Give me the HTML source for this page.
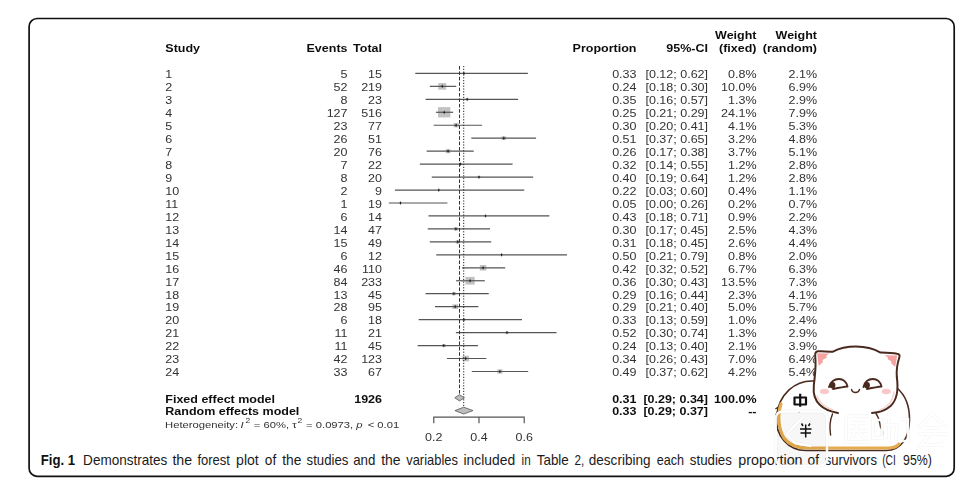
<!DOCTYPE html><html><head><meta charset="utf-8"><style>html,body{margin:0;padding:0;background:#fff;width:980px;height:490px;overflow:hidden}svg{position:absolute;left:0;top:0}</style></head><body>
<svg width="980" height="490" viewBox="0 0 980 490" font-family="Liberation Sans, sans-serif">
<rect x="29.1" y="18.5" width="925.1" height="457.8" rx="8" ry="8" fill="none" stroke="#111" stroke-width="1.7"/>
<defs><filter id="bl" x="-5%" y="-5%" width="110%" height="110%"><feGaussianBlur stdDeviation="0.35"/></filter></defs>
<g filter="url(#bl)">
<text transform="translate(165.30,52.30) scale(1.17,1)" font-size="10.7" text-anchor="start" fill="#111" font-weight="bold" >Study</text>
<text transform="translate(347.50,52.30) scale(1.17,1)" font-size="10.7" text-anchor="end" fill="#111" font-weight="bold" >Events</text>
<text transform="translate(382.00,52.30) scale(1.17,1)" font-size="10.7" text-anchor="end" fill="#111" font-weight="bold" >Total</text>
<text transform="translate(636.50,52.30) scale(1.17,1)" font-size="10.7" text-anchor="end" fill="#111" font-weight="bold" >Proportion</text>
<text transform="translate(708.00,52.30) scale(1.17,1)" font-size="10.7" text-anchor="end" fill="#111" font-weight="bold" >95%-CI</text>
<text transform="translate(756.50,39.30) scale(1.17,1)" font-size="10.7" text-anchor="end" fill="#111" font-weight="bold" >Weight</text>
<text transform="translate(756.50,52.30) scale(1.17,1)" font-size="10.7" text-anchor="end" fill="#111" font-weight="bold" >(fixed)</text>
<text transform="translate(817.00,39.30) scale(1.17,1)" font-size="10.7" text-anchor="end" fill="#111" font-weight="bold" >Weight</text>
<text transform="translate(817.00,52.30) scale(1.17,1)" font-size="10.7" text-anchor="end" fill="#111" font-weight="bold" >(random)</text>
<text transform="translate(165.30,78.20) scale(1.17,1)" font-size="10.7" text-anchor="start" fill="#333" >1</text>
<text transform="translate(347.50,78.20) scale(1.17,1)" font-size="10.7" text-anchor="end" fill="#333" >5</text>
<text transform="translate(382.00,78.20) scale(1.17,1)" font-size="10.7" text-anchor="end" fill="#333" >15</text>
<text transform="translate(636.50,78.20) scale(1.17,1)" font-size="10.7" text-anchor="end" fill="#333" >0.33</text>
<text transform="translate(708.00,78.20) scale(1.17,1)" font-size="10.7" text-anchor="end" fill="#333" >[0.12; 0.62]</text>
<text transform="translate(756.50,78.20) scale(1.17,1)" font-size="10.7" text-anchor="end" fill="#333" >0.8%</text>
<text transform="translate(817.00,78.20) scale(1.17,1)" font-size="10.7" text-anchor="end" fill="#333" >2.1%</text>
<line x1="415.28" y1="73.40" x2="527.87" y2="73.40" stroke="#555" stroke-width="1.2"/>
<path d="M463.01,73.40 L463.91,71.50 L464.81,73.40 L463.91,75.30 Z" fill="#222"/>
<text transform="translate(165.30,91.16) scale(1.17,1)" font-size="10.7" text-anchor="start" fill="#333" >2</text>
<text transform="translate(347.50,91.16) scale(1.17,1)" font-size="10.7" text-anchor="end" fill="#333" >52</text>
<text transform="translate(382.00,91.16) scale(1.17,1)" font-size="10.7" text-anchor="end" fill="#333" >219</text>
<text transform="translate(636.50,91.16) scale(1.17,1)" font-size="10.7" text-anchor="end" fill="#333" >0.24</text>
<text transform="translate(708.00,91.16) scale(1.17,1)" font-size="10.7" text-anchor="end" fill="#333" >[0.18; 0.30]</text>
<text transform="translate(756.50,91.16) scale(1.17,1)" font-size="10.7" text-anchor="end" fill="#333" >10.0%</text>
<text transform="translate(817.00,91.16) scale(1.17,1)" font-size="10.7" text-anchor="end" fill="#333" >6.9%</text>
<rect x="438.24" y="83.04" width="7.97" height="6.64" fill="#c2c2c2"/>
<line x1="429.86" y1="86.36" x2="456.24" y2="86.36" stroke="#555" stroke-width="1.2"/>
<path d="M441.33,86.36 L442.23,84.46 L443.13,86.36 L442.23,88.26 Z" fill="#222"/>
<text transform="translate(165.30,104.12) scale(1.17,1)" font-size="10.7" text-anchor="start" fill="#333" >3</text>
<text transform="translate(347.50,104.12) scale(1.17,1)" font-size="10.7" text-anchor="end" fill="#333" >8</text>
<text transform="translate(382.00,104.12) scale(1.17,1)" font-size="10.7" text-anchor="end" fill="#333" >23</text>
<text transform="translate(636.50,104.12) scale(1.17,1)" font-size="10.7" text-anchor="end" fill="#333" >0.35</text>
<text transform="translate(708.00,104.12) scale(1.17,1)" font-size="10.7" text-anchor="end" fill="#333" >[0.16; 0.57]</text>
<text transform="translate(756.50,104.12) scale(1.17,1)" font-size="10.7" text-anchor="end" fill="#333" >1.3%</text>
<text transform="translate(817.00,104.12) scale(1.17,1)" font-size="10.7" text-anchor="end" fill="#333" >2.9%</text>
<rect x="465.75" y="98.12" width="2.87" height="2.39" fill="#c2c2c2"/>
<line x1="425.59" y1="99.32" x2="518.04" y2="99.32" stroke="#555" stroke-width="1.2"/>
<path d="M466.29,99.32 L467.19,97.42 L468.09,99.32 L467.19,101.22 Z" fill="#222"/>
<text transform="translate(165.30,117.08) scale(1.17,1)" font-size="10.7" text-anchor="start" fill="#333" >4</text>
<text transform="translate(347.50,117.08) scale(1.17,1)" font-size="10.7" text-anchor="end" fill="#333" >127</text>
<text transform="translate(382.00,117.08) scale(1.17,1)" font-size="10.7" text-anchor="end" fill="#333" >516</text>
<text transform="translate(636.50,117.08) scale(1.17,1)" font-size="10.7" text-anchor="end" fill="#333" >0.25</text>
<text transform="translate(708.00,117.08) scale(1.17,1)" font-size="10.7" text-anchor="end" fill="#333" >[0.21; 0.29]</text>
<text transform="translate(756.50,117.08) scale(1.17,1)" font-size="10.7" text-anchor="end" fill="#333" >24.1%</text>
<text transform="translate(817.00,117.08) scale(1.17,1)" font-size="10.7" text-anchor="end" fill="#333" >7.9%</text>
<rect x="438.01" y="107.13" width="12.37" height="10.31" fill="#c2c2c2"/>
<line x1="435.92" y1="112.28" x2="453.15" y2="112.28" stroke="#555" stroke-width="1.2"/>
<path d="M443.29,112.28 L444.19,110.38 L445.09,112.28 L444.19,114.18 Z" fill="#222"/>
<text transform="translate(165.30,130.04) scale(1.17,1)" font-size="10.7" text-anchor="start" fill="#333" >5</text>
<text transform="translate(347.50,130.04) scale(1.17,1)" font-size="10.7" text-anchor="end" fill="#333" >23</text>
<text transform="translate(382.00,130.04) scale(1.17,1)" font-size="10.7" text-anchor="end" fill="#333" >77</text>
<text transform="translate(636.50,130.04) scale(1.17,1)" font-size="10.7" text-anchor="end" fill="#333" >0.30</text>
<text transform="translate(708.00,130.04) scale(1.17,1)" font-size="10.7" text-anchor="end" fill="#333" >[0.20; 0.41]</text>
<text transform="translate(756.50,130.04) scale(1.17,1)" font-size="10.7" text-anchor="end" fill="#333" >4.1%</text>
<text transform="translate(817.00,130.04) scale(1.17,1)" font-size="10.7" text-anchor="end" fill="#333" >5.3%</text>
<rect x="453.53" y="123.11" width="5.10" height="4.25" fill="#c2c2c2"/>
<line x1="433.70" y1="125.24" x2="482.11" y2="125.24" stroke="#555" stroke-width="1.2"/>
<path d="M455.19,125.24 L456.09,123.34 L456.99,125.24 L456.09,127.14 Z" fill="#222"/>
<text transform="translate(165.30,143.00) scale(1.17,1)" font-size="10.7" text-anchor="start" fill="#333" >6</text>
<text transform="translate(347.50,143.00) scale(1.17,1)" font-size="10.7" text-anchor="end" fill="#333" >26</text>
<text transform="translate(382.00,143.00) scale(1.17,1)" font-size="10.7" text-anchor="end" fill="#333" >51</text>
<text transform="translate(636.50,143.00) scale(1.17,1)" font-size="10.7" text-anchor="end" fill="#333" >0.51</text>
<text transform="translate(708.00,143.00) scale(1.17,1)" font-size="10.7" text-anchor="end" fill="#333" >[0.37; 0.65]</text>
<text transform="translate(756.50,143.00) scale(1.17,1)" font-size="10.7" text-anchor="end" fill="#333" >3.2%</text>
<text transform="translate(817.00,143.00) scale(1.17,1)" font-size="10.7" text-anchor="end" fill="#333" >4.8%</text>
<rect x="501.56" y="136.32" width="4.51" height="3.76" fill="#c2c2c2"/>
<line x1="471.30" y1="138.20" x2="536.08" y2="138.20" stroke="#555" stroke-width="1.2"/>
<path d="M502.92,138.20 L503.82,136.30 L504.72,138.20 L503.82,140.10 Z" fill="#222"/>
<text transform="translate(165.30,155.96) scale(1.17,1)" font-size="10.7" text-anchor="start" fill="#333" >7</text>
<text transform="translate(347.50,155.96) scale(1.17,1)" font-size="10.7" text-anchor="end" fill="#333" >20</text>
<text transform="translate(382.00,155.96) scale(1.17,1)" font-size="10.7" text-anchor="end" fill="#333" >76</text>
<text transform="translate(636.50,155.96) scale(1.17,1)" font-size="10.7" text-anchor="end" fill="#333" >0.26</text>
<text transform="translate(708.00,155.96) scale(1.17,1)" font-size="10.7" text-anchor="end" fill="#333" >[0.17; 0.38]</text>
<text transform="translate(756.50,155.96) scale(1.17,1)" font-size="10.7" text-anchor="end" fill="#333" >3.7%</text>
<text transform="translate(817.00,155.96) scale(1.17,1)" font-size="10.7" text-anchor="end" fill="#333" >5.1%</text>
<rect x="445.64" y="149.14" width="4.85" height="4.04" fill="#c2c2c2"/>
<line x1="426.69" y1="151.16" x2="473.74" y2="151.16" stroke="#555" stroke-width="1.2"/>
<path d="M447.16,151.16 L448.06,149.26 L448.96,151.16 L448.06,153.06 Z" fill="#222"/>
<text transform="translate(165.30,168.92) scale(1.17,1)" font-size="10.7" text-anchor="start" fill="#333" >8</text>
<text transform="translate(347.50,168.92) scale(1.17,1)" font-size="10.7" text-anchor="end" fill="#333" >7</text>
<text transform="translate(382.00,168.92) scale(1.17,1)" font-size="10.7" text-anchor="end" fill="#333" >22</text>
<text transform="translate(636.50,168.92) scale(1.17,1)" font-size="10.7" text-anchor="end" fill="#333" >0.32</text>
<text transform="translate(708.00,168.92) scale(1.17,1)" font-size="10.7" text-anchor="end" fill="#333" >[0.14; 0.55]</text>
<text transform="translate(756.50,168.92) scale(1.17,1)" font-size="10.7" text-anchor="end" fill="#333" >1.2%</text>
<text transform="translate(817.00,168.92) scale(1.17,1)" font-size="10.7" text-anchor="end" fill="#333" >2.8%</text>
<rect x="459.11" y="162.97" width="2.76" height="2.30" fill="#c2c2c2"/>
<line x1="419.89" y1="164.12" x2="512.61" y2="164.12" stroke="#555" stroke-width="1.2"/>
<path d="M459.60,164.12 L460.50,162.22 L461.40,164.12 L460.50,166.02 Z" fill="#222"/>
<text transform="translate(165.30,181.88) scale(1.17,1)" font-size="10.7" text-anchor="start" fill="#333" >9</text>
<text transform="translate(347.50,181.88) scale(1.17,1)" font-size="10.7" text-anchor="end" fill="#333" >8</text>
<text transform="translate(382.00,181.88) scale(1.17,1)" font-size="10.7" text-anchor="end" fill="#333" >20</text>
<text transform="translate(636.50,181.88) scale(1.17,1)" font-size="10.7" text-anchor="end" fill="#333" >0.40</text>
<text transform="translate(708.00,181.88) scale(1.17,1)" font-size="10.7" text-anchor="end" fill="#333" >[0.19; 0.64]</text>
<text transform="translate(756.50,181.88) scale(1.17,1)" font-size="10.7" text-anchor="end" fill="#333" >1.2%</text>
<text transform="translate(817.00,181.88) scale(1.17,1)" font-size="10.7" text-anchor="end" fill="#333" >2.8%</text>
<rect x="477.61" y="175.93" width="2.76" height="2.30" fill="#c2c2c2"/>
<line x1="431.78" y1="177.08" x2="533.14" y2="177.08" stroke="#555" stroke-width="1.2"/>
<path d="M478.09,177.08 L478.99,175.18 L479.89,177.08 L478.99,178.98 Z" fill="#222"/>
<text transform="translate(165.30,194.84) scale(1.17,1)" font-size="10.7" text-anchor="start" fill="#333" >10</text>
<text transform="translate(347.50,194.84) scale(1.17,1)" font-size="10.7" text-anchor="end" fill="#333" >2</text>
<text transform="translate(382.00,194.84) scale(1.17,1)" font-size="10.7" text-anchor="end" fill="#333" >9</text>
<text transform="translate(636.50,194.84) scale(1.17,1)" font-size="10.7" text-anchor="end" fill="#333" >0.22</text>
<text transform="translate(708.00,194.84) scale(1.17,1)" font-size="10.7" text-anchor="end" fill="#333" >[0.03; 0.60]</text>
<text transform="translate(756.50,194.84) scale(1.17,1)" font-size="10.7" text-anchor="end" fill="#333" >0.4%</text>
<text transform="translate(817.00,194.84) scale(1.17,1)" font-size="10.7" text-anchor="end" fill="#333" >1.1%</text>
<line x1="394.90" y1="190.04" x2="524.23" y2="190.04" stroke="#555" stroke-width="1.2"/>
<path d="M437.89,190.04 L438.79,188.14 L439.69,190.04 L438.79,191.94 Z" fill="#222"/>
<text transform="translate(165.30,207.80) scale(1.17,1)" font-size="10.7" text-anchor="start" fill="#333" >11</text>
<text transform="translate(347.50,207.80) scale(1.17,1)" font-size="10.7" text-anchor="end" fill="#333" >1</text>
<text transform="translate(382.00,207.80) scale(1.17,1)" font-size="10.7" text-anchor="end" fill="#333" >19</text>
<text transform="translate(636.50,207.80) scale(1.17,1)" font-size="10.7" text-anchor="end" fill="#333" >0.05</text>
<text transform="translate(708.00,207.80) scale(1.17,1)" font-size="10.7" text-anchor="end" fill="#333" >[0.00; 0.26]</text>
<text transform="translate(756.50,207.80) scale(1.17,1)" font-size="10.7" text-anchor="end" fill="#333" >0.2%</text>
<text transform="translate(817.00,207.80) scale(1.17,1)" font-size="10.7" text-anchor="end" fill="#333" >0.7%</text>
<line x1="388.84" y1="203.00" x2="447.40" y2="203.00" stroke="#555" stroke-width="1.2"/>
<path d="M399.54,203.00 L400.44,201.10 L401.34,203.00 L400.44,204.90 Z" fill="#222"/>
<text transform="translate(165.30,220.76) scale(1.17,1)" font-size="10.7" text-anchor="start" fill="#333" >12</text>
<text transform="translate(347.50,220.76) scale(1.17,1)" font-size="10.7" text-anchor="end" fill="#333" >6</text>
<text transform="translate(382.00,220.76) scale(1.17,1)" font-size="10.7" text-anchor="end" fill="#333" >14</text>
<text transform="translate(636.50,220.76) scale(1.17,1)" font-size="10.7" text-anchor="end" fill="#333" >0.43</text>
<text transform="translate(708.00,220.76) scale(1.17,1)" font-size="10.7" text-anchor="end" fill="#333" >[0.18; 0.71]</text>
<text transform="translate(756.50,220.76) scale(1.17,1)" font-size="10.7" text-anchor="end" fill="#333" >0.9%</text>
<text transform="translate(817.00,220.76) scale(1.17,1)" font-size="10.7" text-anchor="end" fill="#333" >2.2%</text>
<line x1="428.48" y1="215.96" x2="549.40" y2="215.96" stroke="#555" stroke-width="1.2"/>
<path d="M484.56,215.96 L485.46,214.06 L486.36,215.96 L485.46,217.86 Z" fill="#222"/>
<text transform="translate(165.30,233.72) scale(1.17,1)" font-size="10.7" text-anchor="start" fill="#333" >13</text>
<text transform="translate(347.50,233.72) scale(1.17,1)" font-size="10.7" text-anchor="end" fill="#333" >14</text>
<text transform="translate(382.00,233.72) scale(1.17,1)" font-size="10.7" text-anchor="end" fill="#333" >47</text>
<text transform="translate(636.50,233.72) scale(1.17,1)" font-size="10.7" text-anchor="end" fill="#333" >0.30</text>
<text transform="translate(708.00,233.72) scale(1.17,1)" font-size="10.7" text-anchor="end" fill="#333" >[0.17; 0.45]</text>
<text transform="translate(756.50,233.72) scale(1.17,1)" font-size="10.7" text-anchor="end" fill="#333" >2.5%</text>
<text transform="translate(817.00,233.72) scale(1.17,1)" font-size="10.7" text-anchor="end" fill="#333" >4.3%</text>
<rect x="453.91" y="227.26" width="3.98" height="3.32" fill="#c2c2c2"/>
<line x1="427.76" y1="228.92" x2="490.05" y2="228.92" stroke="#555" stroke-width="1.2"/>
<path d="M455.01,228.92 L455.91,227.02 L456.81,228.92 L455.91,230.82 Z" fill="#222"/>
<text transform="translate(165.30,246.68) scale(1.17,1)" font-size="10.7" text-anchor="start" fill="#333" >14</text>
<text transform="translate(347.50,246.68) scale(1.17,1)" font-size="10.7" text-anchor="end" fill="#333" >15</text>
<text transform="translate(382.00,246.68) scale(1.17,1)" font-size="10.7" text-anchor="end" fill="#333" >49</text>
<text transform="translate(636.50,246.68) scale(1.17,1)" font-size="10.7" text-anchor="end" fill="#333" >0.31</text>
<text transform="translate(708.00,246.68) scale(1.17,1)" font-size="10.7" text-anchor="end" fill="#333" >[0.18; 0.45]</text>
<text transform="translate(756.50,246.68) scale(1.17,1)" font-size="10.7" text-anchor="end" fill="#333" >2.6%</text>
<text transform="translate(817.00,246.68) scale(1.17,1)" font-size="10.7" text-anchor="end" fill="#333" >4.4%</text>
<rect x="455.73" y="240.19" width="4.06" height="3.39" fill="#c2c2c2"/>
<line x1="429.81" y1="241.88" x2="491.24" y2="241.88" stroke="#555" stroke-width="1.2"/>
<path d="M456.86,241.88 L457.76,239.98 L458.66,241.88 L457.76,243.78 Z" fill="#222"/>
<text transform="translate(165.30,259.64) scale(1.17,1)" font-size="10.7" text-anchor="start" fill="#333" >15</text>
<text transform="translate(347.50,259.64) scale(1.17,1)" font-size="10.7" text-anchor="end" fill="#333" >6</text>
<text transform="translate(382.00,259.64) scale(1.17,1)" font-size="10.7" text-anchor="end" fill="#333" >12</text>
<text transform="translate(636.50,259.64) scale(1.17,1)" font-size="10.7" text-anchor="end" fill="#333" >0.50</text>
<text transform="translate(708.00,259.64) scale(1.17,1)" font-size="10.7" text-anchor="end" fill="#333" >[0.21; 0.79]</text>
<text transform="translate(756.50,259.64) scale(1.17,1)" font-size="10.7" text-anchor="end" fill="#333" >0.8%</text>
<text transform="translate(817.00,259.64) scale(1.17,1)" font-size="10.7" text-anchor="end" fill="#333" >2.0%</text>
<line x1="436.23" y1="254.84" x2="566.97" y2="254.84" stroke="#555" stroke-width="1.2"/>
<path d="M500.70,254.84 L501.60,252.94 L502.50,254.84 L501.60,256.74 Z" fill="#222"/>
<text transform="translate(165.30,272.60) scale(1.17,1)" font-size="10.7" text-anchor="start" fill="#333" >16</text>
<text transform="translate(347.50,272.60) scale(1.17,1)" font-size="10.7" text-anchor="end" fill="#333" >46</text>
<text transform="translate(382.00,272.60) scale(1.17,1)" font-size="10.7" text-anchor="end" fill="#333" >110</text>
<text transform="translate(636.50,272.60) scale(1.17,1)" font-size="10.7" text-anchor="end" fill="#333" >0.42</text>
<text transform="translate(708.00,272.60) scale(1.17,1)" font-size="10.7" text-anchor="end" fill="#333" >[0.32; 0.52]</text>
<text transform="translate(756.50,272.60) scale(1.17,1)" font-size="10.7" text-anchor="end" fill="#333" >6.7%</text>
<text transform="translate(817.00,272.60) scale(1.17,1)" font-size="10.7" text-anchor="end" fill="#333" >6.3%</text>
<rect x="479.84" y="265.08" width="6.52" height="5.44" fill="#c2c2c2"/>
<line x1="461.99" y1="267.80" x2="505.24" y2="267.80" stroke="#555" stroke-width="1.2"/>
<path d="M482.21,267.80 L483.11,265.90 L484.01,267.80 L483.11,269.70 Z" fill="#222"/>
<text transform="translate(165.30,285.56) scale(1.17,1)" font-size="10.7" text-anchor="start" fill="#333" >17</text>
<text transform="translate(347.50,285.56) scale(1.17,1)" font-size="10.7" text-anchor="end" fill="#333" >84</text>
<text transform="translate(382.00,285.56) scale(1.17,1)" font-size="10.7" text-anchor="end" fill="#333" >233</text>
<text transform="translate(636.50,285.56) scale(1.17,1)" font-size="10.7" text-anchor="end" fill="#333" >0.36</text>
<text transform="translate(708.00,285.56) scale(1.17,1)" font-size="10.7" text-anchor="end" fill="#333" >[0.30; 0.43]</text>
<text transform="translate(756.50,285.56) scale(1.17,1)" font-size="10.7" text-anchor="end" fill="#333" >13.5%</text>
<text transform="translate(817.00,285.56) scale(1.17,1)" font-size="10.7" text-anchor="end" fill="#333" >7.3%</text>
<rect x="465.43" y="276.90" width="9.26" height="7.72" fill="#c2c2c2"/>
<line x1="456.11" y1="280.76" x2="484.82" y2="280.76" stroke="#555" stroke-width="1.2"/>
<path d="M469.16,280.76 L470.06,278.86 L470.96,280.76 L470.06,282.66 Z" fill="#222"/>
<text transform="translate(165.30,298.52) scale(1.17,1)" font-size="10.7" text-anchor="start" fill="#333" >18</text>
<text transform="translate(347.50,298.52) scale(1.17,1)" font-size="10.7" text-anchor="end" fill="#333" >13</text>
<text transform="translate(382.00,298.52) scale(1.17,1)" font-size="10.7" text-anchor="end" fill="#333" >45</text>
<text transform="translate(636.50,298.52) scale(1.17,1)" font-size="10.7" text-anchor="end" fill="#333" >0.29</text>
<text transform="translate(708.00,298.52) scale(1.17,1)" font-size="10.7" text-anchor="end" fill="#333" >[0.16; 0.44]</text>
<text transform="translate(756.50,298.52) scale(1.17,1)" font-size="10.7" text-anchor="end" fill="#333" >2.3%</text>
<text transform="translate(817.00,298.52) scale(1.17,1)" font-size="10.7" text-anchor="end" fill="#333" >4.1%</text>
<rect x="451.96" y="292.13" width="3.82" height="3.18" fill="#c2c2c2"/>
<line x1="425.56" y1="293.72" x2="488.73" y2="293.72" stroke="#555" stroke-width="1.2"/>
<path d="M452.97,293.72 L453.87,291.82 L454.77,293.72 L453.87,295.62 Z" fill="#222"/>
<text transform="translate(165.30,311.48) scale(1.17,1)" font-size="10.7" text-anchor="start" fill="#333" >19</text>
<text transform="translate(347.50,311.48) scale(1.17,1)" font-size="10.7" text-anchor="end" fill="#333" >28</text>
<text transform="translate(382.00,311.48) scale(1.17,1)" font-size="10.7" text-anchor="end" fill="#333" >95</text>
<text transform="translate(636.50,311.48) scale(1.17,1)" font-size="10.7" text-anchor="end" fill="#333" >0.29</text>
<text transform="translate(708.00,311.48) scale(1.17,1)" font-size="10.7" text-anchor="end" fill="#333" >[0.21; 0.40]</text>
<text transform="translate(756.50,311.48) scale(1.17,1)" font-size="10.7" text-anchor="end" fill="#333" >5.0%</text>
<text transform="translate(817.00,311.48) scale(1.17,1)" font-size="10.7" text-anchor="end" fill="#333" >5.7%</text>
<rect x="452.36" y="304.33" width="5.63" height="4.70" fill="#c2c2c2"/>
<line x1="435.04" y1="306.68" x2="478.33" y2="306.68" stroke="#555" stroke-width="1.2"/>
<path d="M454.28,306.68 L455.18,304.78 L456.08,306.68 L455.18,308.58 Z" fill="#222"/>
<text transform="translate(165.30,324.44) scale(1.17,1)" font-size="10.7" text-anchor="start" fill="#333" >20</text>
<text transform="translate(347.50,324.44) scale(1.17,1)" font-size="10.7" text-anchor="end" fill="#333" >6</text>
<text transform="translate(382.00,324.44) scale(1.17,1)" font-size="10.7" text-anchor="end" fill="#333" >18</text>
<text transform="translate(636.50,324.44) scale(1.17,1)" font-size="10.7" text-anchor="end" fill="#333" >0.33</text>
<text transform="translate(708.00,324.44) scale(1.17,1)" font-size="10.7" text-anchor="end" fill="#333" >[0.13; 0.59]</text>
<text transform="translate(756.50,324.44) scale(1.17,1)" font-size="10.7" text-anchor="end" fill="#333" >1.0%</text>
<text transform="translate(817.00,324.44) scale(1.17,1)" font-size="10.7" text-anchor="end" fill="#333" >2.4%</text>
<rect x="462.65" y="318.59" width="2.52" height="2.10" fill="#c2c2c2"/>
<line x1="418.71" y1="319.64" x2="521.97" y2="319.64" stroke="#555" stroke-width="1.2"/>
<path d="M463.01,319.64 L463.91,317.74 L464.81,319.64 L463.91,321.54 Z" fill="#222"/>
<text transform="translate(165.30,337.40) scale(1.17,1)" font-size="10.7" text-anchor="start" fill="#333" >21</text>
<text transform="translate(347.50,337.40) scale(1.17,1)" font-size="10.7" text-anchor="end" fill="#333" >11</text>
<text transform="translate(382.00,337.40) scale(1.17,1)" font-size="10.7" text-anchor="end" fill="#333" >21</text>
<text transform="translate(636.50,337.40) scale(1.17,1)" font-size="10.7" text-anchor="end" fill="#333" >0.52</text>
<text transform="translate(708.00,337.40) scale(1.17,1)" font-size="10.7" text-anchor="end" fill="#333" >[0.30; 0.74]</text>
<text transform="translate(756.50,337.40) scale(1.17,1)" font-size="10.7" text-anchor="end" fill="#333" >1.3%</text>
<text transform="translate(817.00,337.40) scale(1.17,1)" font-size="10.7" text-anchor="end" fill="#333" >2.9%</text>
<rect x="505.54" y="331.40" width="2.87" height="2.39" fill="#c2c2c2"/>
<line x1="455.88" y1="332.60" x2="556.52" y2="332.60" stroke="#555" stroke-width="1.2"/>
<path d="M506.08,332.60 L506.98,330.70 L507.88,332.60 L506.98,334.50 Z" fill="#222"/>
<text transform="translate(165.30,350.36) scale(1.17,1)" font-size="10.7" text-anchor="start" fill="#333" >22</text>
<text transform="translate(347.50,350.36) scale(1.17,1)" font-size="10.7" text-anchor="end" fill="#333" >11</text>
<text transform="translate(382.00,350.36) scale(1.17,1)" font-size="10.7" text-anchor="end" fill="#333" >45</text>
<text transform="translate(636.50,350.36) scale(1.17,1)" font-size="10.7" text-anchor="end" fill="#333" >0.24</text>
<text transform="translate(708.00,350.36) scale(1.17,1)" font-size="10.7" text-anchor="end" fill="#333" >[0.13; 0.40]</text>
<text transform="translate(756.50,350.36) scale(1.17,1)" font-size="10.7" text-anchor="end" fill="#333" >2.1%</text>
<text transform="translate(817.00,350.36) scale(1.17,1)" font-size="10.7" text-anchor="end" fill="#333" >3.9%</text>
<rect x="441.98" y="344.04" width="3.65" height="3.04" fill="#c2c2c2"/>
<line x1="417.67" y1="345.56" x2="477.95" y2="345.56" stroke="#555" stroke-width="1.2"/>
<path d="M442.91,345.56 L443.81,343.66 L444.71,345.56 L443.81,347.46 Z" fill="#222"/>
<text transform="translate(165.30,363.32) scale(1.17,1)" font-size="10.7" text-anchor="start" fill="#333" >23</text>
<text transform="translate(347.50,363.32) scale(1.17,1)" font-size="10.7" text-anchor="end" fill="#333" >42</text>
<text transform="translate(382.00,363.32) scale(1.17,1)" font-size="10.7" text-anchor="end" fill="#333" >123</text>
<text transform="translate(636.50,363.32) scale(1.17,1)" font-size="10.7" text-anchor="end" fill="#333" >0.34</text>
<text transform="translate(708.00,363.32) scale(1.17,1)" font-size="10.7" text-anchor="end" fill="#333" >[0.26; 0.43]</text>
<text transform="translate(756.50,363.32) scale(1.17,1)" font-size="10.7" text-anchor="end" fill="#333" >7.0%</text>
<text transform="translate(817.00,363.32) scale(1.17,1)" font-size="10.7" text-anchor="end" fill="#333" >6.4%</text>
<rect x="462.43" y="355.74" width="6.67" height="5.56" fill="#c2c2c2"/>
<line x1="446.97" y1="358.52" x2="486.32" y2="358.52" stroke="#555" stroke-width="1.2"/>
<path d="M464.86,358.52 L465.76,356.62 L466.66,358.52 L465.76,360.42 Z" fill="#222"/>
<text transform="translate(165.30,376.28) scale(1.17,1)" font-size="10.7" text-anchor="start" fill="#333" >24</text>
<text transform="translate(347.50,376.28) scale(1.17,1)" font-size="10.7" text-anchor="end" fill="#333" >33</text>
<text transform="translate(382.00,376.28) scale(1.17,1)" font-size="10.7" text-anchor="end" fill="#333" >67</text>
<text transform="translate(636.50,376.28) scale(1.17,1)" font-size="10.7" text-anchor="end" fill="#333" >0.49</text>
<text transform="translate(708.00,376.28) scale(1.17,1)" font-size="10.7" text-anchor="end" fill="#333" >[0.37; 0.62]</text>
<text transform="translate(756.50,376.28) scale(1.17,1)" font-size="10.7" text-anchor="end" fill="#333" >4.2%</text>
<text transform="translate(817.00,376.28) scale(1.17,1)" font-size="10.7" text-anchor="end" fill="#333" >5.4%</text>
<rect x="497.32" y="369.33" width="5.16" height="4.30" fill="#c2c2c2"/>
<line x1="471.80" y1="371.48" x2="528.19" y2="371.48" stroke="#555" stroke-width="1.2"/>
<path d="M499.00,371.48 L499.90,369.58 L500.80,371.48 L499.90,373.38 Z" fill="#222"/>
<line x1="459.50018" y1="66" x2="459.50018" y2="395" stroke="#333" stroke-width="1" stroke-dasharray="3.6,1.8"/>
<line x1="463.70564" y1="66" x2="463.70564" y2="407.5" stroke="#222" stroke-width="1" stroke-dasharray="1.2,1.6"/>
<polygon points="454.80,397.8 459.50,394.7 464.36,397.8 459.50,400.9" fill="#bdbdbd" stroke="#555" stroke-width="0.8"/>
<polygon points="454.93,410.6 463.71,407.2 473.02,410.6 463.71,414" fill="#bdbdbd" stroke="#555" stroke-width="0.8"/>
<text transform="translate(165.30,402.90) scale(1.17,1)" font-size="10.7" text-anchor="start" fill="#111" font-weight="bold" >Fixed effect model</text>
<text transform="translate(382.00,402.90) scale(1.17,1)" font-size="10.7" text-anchor="end" fill="#111" font-weight="bold" >1926</text>
<text transform="translate(636.50,402.90) scale(1.17,1)" font-size="10.7" text-anchor="end" fill="#111" font-weight="bold" >0.31</text>
<text transform="translate(708.00,402.90) scale(1.17,1)" font-size="10.7" text-anchor="end" fill="#111" font-weight="bold" >[0.29; 0.34]</text>
<text transform="translate(756.50,402.90) scale(1.17,1)" font-size="10.7" text-anchor="end" fill="#111" font-weight="bold" >100.0%</text>
<text transform="translate(817.00,402.90) scale(1.17,1)" font-size="10.7" text-anchor="end" fill="#111" font-weight="bold" >--</text>
<text transform="translate(165.30,414.90) scale(1.17,1)" font-size="10.7" text-anchor="start" fill="#111" font-weight="bold" >Random effects model</text>
<text transform="translate(636.50,414.90) scale(1.17,1)" font-size="10.7" text-anchor="end" fill="#111" font-weight="bold" >0.33</text>
<text transform="translate(708.00,414.90) scale(1.17,1)" font-size="10.7" text-anchor="end" fill="#111" font-weight="bold" >[0.29; 0.37]</text>
<text transform="translate(756.50,414.90) scale(1.17,1)" font-size="10.7" text-anchor="end" fill="#111" font-weight="bold" >--</text>
<text transform="translate(817.00,414.90) scale(1.17,1)" font-size="10.7" text-anchor="end" fill="#111" font-weight="bold" >100.0%</text>
<text transform="translate(165.10,427.80) scale(1.17,1)" font-size="9.6" fill="#333">Heterogeneity:</text>
<text transform="translate(240.60,427.80) scale(1.17,1)" font-size="9.6" fill="#333" font-style="italic">I</text>
<text transform="translate(245.50,423.20) scale(1.17,1)" font-size="7.2" fill="#333">2</text>
<text transform="translate(253.80,427.80) scale(1.17,1)" font-size="9.6" fill="#333">= 60%, τ</text>
<text transform="translate(297.60,423.20) scale(1.17,1)" font-size="7.2" fill="#333">2</text>
<text transform="translate(306.10,427.80) scale(1.17,1)" font-size="9.6" fill="#333">= 0.0973,</text>
<text transform="translate(356.20,427.80) scale(1.17,1)" font-size="9.6" fill="#333" font-style="italic">p</text>
<text transform="translate(367.70,427.80) scale(1.17,1)" font-size="9.6" fill="#333">&lt; 0.01</text>
<path d="M433.77,423.2 V417.1 H524.21 V423.2 M478.99,417.1 V423.2" fill="none" stroke="#555" stroke-width="1.2"/>
<text transform="translate(433.77,441.00) scale(1.17,1)" font-size="10.7" text-anchor="middle" fill="#333" >0.2</text>
<text transform="translate(478.99,441.00) scale(1.17,1)" font-size="10.7" text-anchor="middle" fill="#333" >0.4</text>
<text transform="translate(524.21,441.00) scale(1.17,1)" font-size="10.7" text-anchor="middle" fill="#333" >0.6</text>
</g>
<text transform="translate(40.70,464.9) scale(0.943,1)" font-size="14" font-weight="bold" fill="#111">Fig. 1</text>
<text transform="translate(83.10,464.9) scale(0.968,1)" font-size="14" fill="#1a1a1a">Demonstrates</text>
<text transform="translate(172.40,464.9) scale(1.016,1)" font-size="14" fill="#1a1a1a">the</text>
<text transform="translate(197.40,464.9) scale(0.931,1)" font-size="14" fill="#1a1a1a">forest</text>
<text transform="translate(236.10,464.9) scale(1.004,1)" font-size="14" fill="#1a1a1a">plot</text>
<text transform="translate(264.80,464.9) scale(0.975,1)" font-size="14" fill="#1a1a1a">of</text>
<text transform="translate(282.20,464.9) scale(0.989,1)" font-size="14" fill="#1a1a1a">the</text>
<text transform="translate(306.60,464.9) scale(0.941,1)" font-size="14" fill="#1a1a1a">studies</text>
<text transform="translate(353.20,464.9) scale(0.952,1)" font-size="14" fill="#1a1a1a">and</text>
<text transform="translate(381.20,464.9) scale(0.995,1)" font-size="14" fill="#1a1a1a">the</text>
<text transform="translate(406.20,464.9) scale(0.923,1)" font-size="14" fill="#1a1a1a">variables</text>
<text transform="translate(463.50,464.9) scale(0.990,1)" font-size="14" fill="#1a1a1a">included</text>
<text transform="translate(521.60,464.9) scale(0.836,1)" font-size="14" fill="#1a1a1a">in</text>
<text transform="translate(536.70,464.9) scale(0.961,1)" font-size="14" fill="#1a1a1a">Table</text>
<text transform="translate(574.50,464.9) scale(0.836,1)" font-size="14" fill="#1a1a1a">2,</text>
<text transform="translate(588.80,464.9) scale(0.967,1)" font-size="14" fill="#1a1a1a">describing</text>
<text transform="translate(656.80,464.9) scale(0.900,1)" font-size="14" fill="#1a1a1a">each</text>
<text transform="translate(689.80,464.9) scale(0.950,1)" font-size="14" fill="#1a1a1a">studies</text>
<text transform="translate(738.30,464.9) scale(1.021,1)" font-size="14" fill="#1a1a1a">proportion</text>
<text transform="translate(807.60,464.9) scale(0.983,1)" font-size="14" fill="#1a1a1a">of</text>
<text transform="translate(824.80,464.9) scale(0.932,1)" font-size="14" fill="#1a1a1a">survivors</text>
<text transform="translate(882.20,464.9) scale(0.733,1)" font-size="14" fill="#1a1a1a">(CI</text>
<text transform="translate(903.10,464.9) scale(0.882,1)" font-size="14" fill="#1a1a1a">95%)</text>
<g stroke-linecap="round" stroke-linejoin="round">
<path d="M814,381 C795,380 779,394 776.5,416 C775,436 788,450.5 806,450.5 L886,450.5 C901,450.5 909.5,438 909.5,419 C909.5,405 904,394 897,388 Z" fill="#fff" stroke="#4a2a1e" stroke-width="1.6"/>
<path d="M781,404 C777.5,414 778,428 784,438 C790,446 798,448 808,448 L888,448 C893,448 897,446.5 899,444" fill="none" stroke="#e6ab4e" stroke-width="3.2"/>
<path d="M838,413 C830,411.5 824,409 820,405 C814.5,400 813,394 813.8,386 C814.5,377 816.5,368 815.2,356 C815,353 815.5,351.5 818,351.3 C823,351 828,351.5 832.5,351.8 C846,345 866,344.5 880.5,352.6 C886,352.8 892,353 897,353.8 C899.5,354 900,355.5 899.3,357.5 C897.5,363 896.2,370 896.8,377 C898.5,389 898,399 890.6,406 C886,410 879,412.5 872,413 Z" fill="#fff" stroke="none"/>
<path d="M838,413 C830,411.5 824,409 820,405 C814.5,400 813,394 813.8,386 C814.5,377 816.5,368 815.2,356 C815,353 815.5,351.5 818,351.3 C823,351 828,351.5 832.5,351.8 C846,345 866,344.5 880.5,352.6 C886,352.8 892,353 897,353.8 C899.5,354 900,355.5 899.3,357.5 C897.5,363 896.2,370 896.8,377 C898.5,389 898,399 890.6,406 C886,410 879,412.5 872,413" fill="none" stroke="#4a2a1e" stroke-width="2"/>
<path d="M817,396 C820,404 826,408 833,410" fill="none" stroke="#f6d2cc" stroke-width="1.5"/>
<path d="M894,392 C893,401 888,407 880,410" fill="none" stroke="#f6d2cc" stroke-width="1.5"/>
<path d="M817.2,353.3 L829.5,353.6 L826,356 L827,357.5 L822.5,360 L823,362 L818.8,366 C818,362 817.5,357 817.2,353.3 Z" fill="#f4a3a0"/>
<path d="M897.2,355.5 L884.5,355.3 L888,357.5 L887.5,359 L891.5,361.5 L891,363 L895.2,367 C896,363 896.5,359 897.2,355.5 Z" fill="#f4a3a0"/>
<ellipse cx="824.5" cy="391.5" rx="4.6" ry="2.7" fill="#f9c9c9"/>
<ellipse cx="886.3" cy="391.5" rx="4.6" ry="2.7" fill="#f9c9c9"/>
<path d="M829,387 C831,381 835,379 839,379 C843,379 846.5,382 847.5,386.5 C843,387 838,388 833,389" fill="none" stroke="#4a2a1e" stroke-width="1.9"/>
<ellipse cx="832.5" cy="385.3" rx="2.9" ry="3.3" fill="#4a2a1e"/>
<path d="M863.5,387 C865,381 869,379 873,379 C877,379 880.5,382 881.5,386.5 C877,387 872,388 867,389" fill="none" stroke="#4a2a1e" stroke-width="1.9"/>
<ellipse cx="867" cy="385.3" rx="2.9" ry="3.3" fill="#4a2a1e"/>
<path d="M851.5,389.5 C852.5,393.5 858.5,393.5 859.5,389.5" fill="none" stroke="#4a2a1e" stroke-width="1.3"/>
<path d="M832.5,414 C830,420 829.5,428 830.6,435" fill="none" stroke="#4a2a1e" stroke-width="1.4"/>
<path d="M876,413.5 C879,418 880,423 880.5,427 C882,429 883.5,431 882,436" fill="none" stroke="#4a2a1e" stroke-width="1.4"/>
<path d="M794.5,397.5 H806 V404.5 H794.5 Z M800.2,393.8 V406.8" fill="none" stroke="#111" stroke-width="2.2" stroke-linecap="butt"/>
<circle cx="799.3" cy="412" r="0.9" fill="#111"/>
<path d="M800,429 H811.5 M800.5,433 H811 M805.7,424.5 V437.5 M801.5,423.5 L803,426 M810,423.5 L808.5,426" fill="none" stroke="#111" stroke-width="1.5" stroke-linecap="butt"/>
</g>
<g fill="none" stroke="#000" stroke-opacity="0.05" stroke-width="3.6"><rect x="775.7" y="411.4" width="51.3" height="54.3" rx="7"/><path d="M803,417 L787,434 L795,443 L811.5,446"/><path d="M846,416 H869 M846,416 V442 H870 M851,423 H866 M849,431 H868 M858,423 L852,440 M858,432 L867,440"/><path d="M873,420 H882 V438 H873 Z M889,418 V440 M885,425 H897 L896,441 M900,419 H908 V441 H900"/><path d="M932,414 L918,428 M932,414 L947,428 M924,428 H941 M918,434 H947 M930,434 L921,445 H945 M939,440 L943,445"/></g>
<rect x="775.7" y="411.4" width="51.3" height="54.3" rx="7" fill="#000" fill-opacity="0.03"/>
<g fill="none" stroke="#fff" stroke-opacity="0.95" stroke-width="2.5"><rect x="775.7" y="411.4" width="51.3" height="54.3" rx="7"/><path d="M803,417 L787,434 L795,443 L811.5,446"/><path d="M846,416 H869 M846,416 V442 H870 M851,423 H866 M849,431 H868 M858,423 L852,440 M858,432 L867,440"/><path d="M873,420 H882 V438 H873 Z M889,418 V440 M885,425 H897 L896,441 M900,419 H908 V441 H900"/><path d="M932,414 L918,428 M932,414 L947,428 M924,428 H941 M918,434 H947 M930,434 L921,445 H945 M939,440 L943,445"/></g>
</svg></body></html>
